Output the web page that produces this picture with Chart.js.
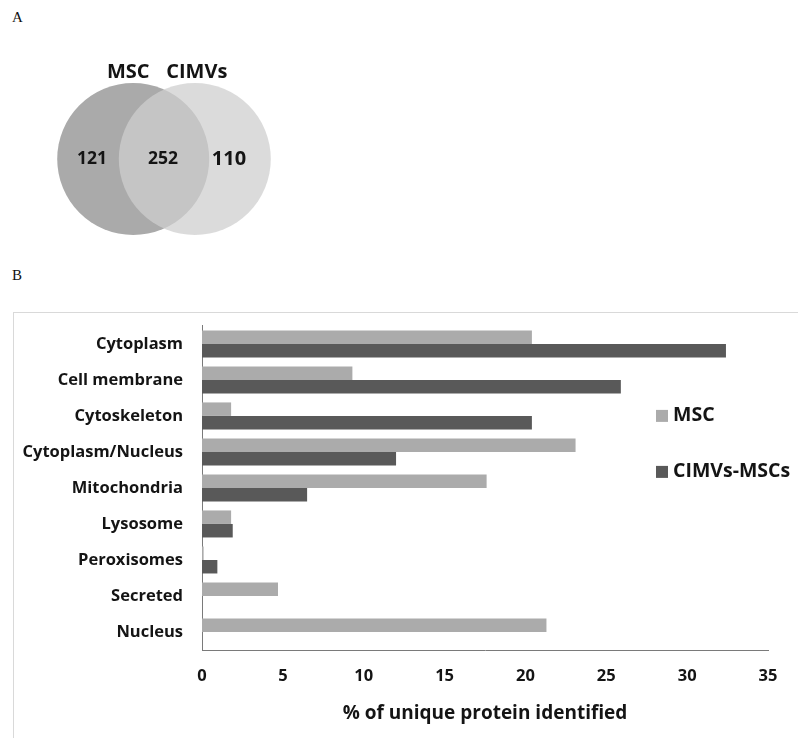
<!DOCTYPE html>
<html>
<head>
<meta charset="utf-8">
<title>MSC vs CIMVs proteins</title>
<script src="https://cdn.jsdelivr.net/npm/chart.js@4.4.1/dist/chart.umd.min.js"></script>
<style>
  html, body { margin: 0; padding: 0; background: #fff; }
  body { width: 798px; height: 738px; position: relative; overflow: hidden; }
  .panel-tag { position: absolute; left: 12px; font: 15px 'Liberation Serif', 'DejaVu Serif', serif; color: #111; }
  #frameB { position: absolute; left: 13px; top: 312px; width: 820px; height: 460px; border: 1px solid #d9d9d9; box-sizing: border-box; }
  #venn { position: absolute; left: 10px; top: 40px; }
  #bars { position: absolute; left: 14px; top: 297px; }
</style>
</head>
<body>
<div class="panel-tag" style="top:9px">A</div>
<div class="panel-tag" style="top:267px">B</div>
<div id="frameB"></div>
<canvas id="venn" width="308" height="238"></canvas>
<canvas id="bars" width="784" height="441"></canvas>

<script>
'use strict';

// ── Data ──────────────────────────────────────
// Venn: MSC only, shared, CIMVs only
const vennSets   = ['MSC', 'CIMVs'];
const vennCounts = [121, 252, 110];

// Subcellular location, % of unique proteins
const locations = ['Cytoplasm', 'Cell membrane', 'Cytoskeleton', 'Cytoplasm/Nucleus',
  'Mitochondria', 'Lysosome', 'Peroxisomes', 'Secreted', 'Nucleus'];
const seriesNames = ['MSC', 'CIMVs-MSCs'];
const mscPct  = [20.4, 9.3, 1.8, 23.1, 17.6, 1.8, 0.1, 4.7, 21.3];
const cimvPct = [32.4, 25.9, 20.4, 12.0, 6.5, 1.9, 0.95, 0, 0];
const xTicks  = [0, 5, 10, 15, 20, 25, 30, 35];
const xTitle  = '% of unique protein identified';

const TEXT = '#141414';
const AXIS = '#7a7a7a';
const FONT = "'Open Sans', Lato, sans-serif";
Chart.defaults.font.family = FONT;
Chart.defaults.color = TEXT;

// ── Venn (two overlapping bubbles) ────────────
const vennText = {
  id: 'vennText',
  afterDatasetsDraw(chart) {
    const { ctx, scales: { x, y } } = chart;
    const r  = chart.data.datasets[0].pointRadius;
    const x0 = x.getPixelForValue(0);
    const x1 = x.getPixelForValue(1);
    const cy = y.getPixelForValue(0);
    ctx.save();
    ctx.fillStyle = TEXT;
    ctx.textAlign = 'center';
    ctx.textBaseline = 'middle';
    ctx.font = `bold 20px ${FONT}`;
    ctx.fillText(vennSets[0], x0 - 5, cy - r - 11);
    ctx.fillText(vennSets[1], x1 + 2, cy - r - 11);
    ctx.font = `bold 17.5px ${FONT}`;
    ctx.fillText(vennCounts[0], (x0 - r + x1 - r) / 2 + 4, cy);
    ctx.fillText(vennCounts[1], (x0 + r + x1 - r) / 2 - 1, cy);
    ctx.font = `bold 20px ${FONT}`;
    ctx.fillText(vennCounts[2], (x0 + r + x1 + r) / 2 - 11, cy);
    ctx.restore();
  }
};

new Chart(document.getElementById('venn'), {
  type: 'scatter',
  data: {
    datasets: [
      { label: vennSets[0], data: [{ x: 0, y: 0 }], pointRadius: 76, borderWidth: 0,
        backgroundColor: '#aaaaaa', order: 2 },
      { label: vennSets[1], data: [{ x: 1, y: 0 }], pointRadius: 76, borderWidth: 0,
        backgroundColor: 'rgba(207,207,207,0.74)', order: 1 },
    ],
  },
  options: {
    responsive: false,
    animation: false,
    events: [],
    layout: { padding: 0, autoPadding: false },
    plugins: { legend: { display: false }, tooltip: { enabled: false } },
    scales: {
      x: { display: false, min: -2, max: 3 },
      y: { display: false, min: -1, max: 1 },
    },
  },
  plugins: [vennText],
});

// ── Horizontal bar chart ──────────────────────
const sideLegend = {
  id: 'sideLegend',
  afterDraw(chart) {
    const { ctx, chartArea } = chart;
    const x = chartArea.right - 112;
    ctx.save();
    ctx.font = `bold 19.5px ${FONT}`;
    ctx.textBaseline = 'middle';
    chart.data.datasets.forEach((ds, i) => {
      const y = chartArea.top + 90 + i * 56;
      ctx.fillStyle = ds.backgroundColor;
      ctx.fillRect(x, y - 6, 12, 12);
      ctx.fillStyle = TEXT;
      ctx.fillText(ds.label, x + 17, y);
    });
    ctx.restore();
  }
};

new Chart(document.getElementById('bars'), {
  type: 'bar',
  data: {
    labels: locations,
    datasets: [
      { label: seriesNames[0], data: mscPct,  backgroundColor: '#ababab' },
      { label: seriesNames[1], data: cimvPct, backgroundColor: '#595959' },
    ],
  },
  options: {
    indexAxis: 'y',
    responsive: false,
    animation: false,
    events: [],
    categoryPercentage: 0.75,
    barPercentage: 1,
    layout: { padding: { top: 12, right: 30, left: 0, bottom: 0 } },
    plugins: { legend: { display: false }, tooltip: { enabled: false } },
    scales: {
      x: {
        min: 0,
        max: 35,
        afterBuildTicks: (s) => { s.ticks = xTicks.map(v => ({ value: v })); },
        ticks: { padding: 16, color: TEXT, font: { size: 16.5, weight: 'bold' } },
        grid: { display: false, drawTicks: false },
        border: { color: AXIS, width: 1 },
        title: { display: true, text: xTitle, color: TEXT,
          font: { size: 19, weight: 'bold' }, padding: { top: 0, bottom: 13 } },
        afterFit: (s) => { s.height = 88; },
      },
      y: {
        ticks: { padding: 19, color: TEXT, font: { size: 16.5, weight: 'bold' } },
        grid: { display: false, drawTicks: false },
        border: { color: AXIS, width: 1 },
        afterFit: (s) => { s.width = 188; },
      },
    },
  },
  plugins: [sideLegend],
});
</script>
</body>
</html>
